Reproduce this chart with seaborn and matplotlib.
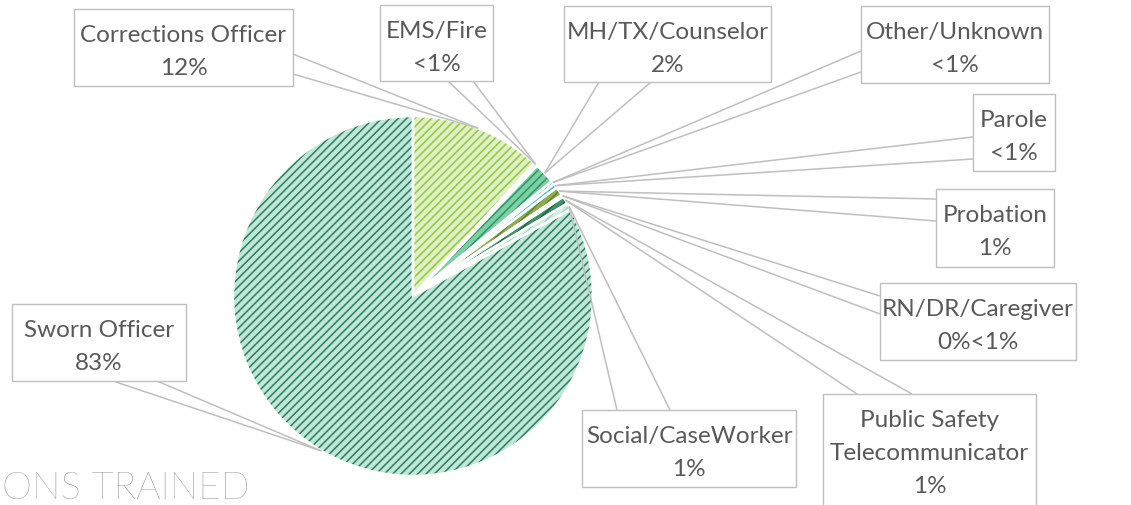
import numpy as np
import matplotlib
matplotlib.use("Agg")
import matplotlib.pyplot as plt
from matplotlib.patches import Wedge, Rectangle
import seaborn as sns

# ---------------- data ----------------
categories = ["Corrections Officer", "EMS/Fire", "MH/TX/Counselor", "Other/Unknown",
              "Parole", "Probation", "RN/DR/Caregiver",
              "Public Safety\nTelecommunicator", "Social/CaseWorker", "Sworn Officer"]
shares = [11.8, 0.3, 1.9, 0.3, 0.4, 0.8, 0.2, 0.7, 0.6, 83.0]
pct_labels = ["12%", "<1%", "2%", "<1%", "<1%", "1%", "0%<1%", "1%", "1%", "83%"]
title_text = "ONS TRAINED"

# ---------------- style ----------------
face_colors = ["#e0f0c2", "#e6f4ec", "#7ecfa6", "#86d8c6", "#62c4ef",
               "#8eae4e", "#eef2ee", "#3f8f68", "#d6eee4", "#bfe6d7"]
hatch_colors = ["#8fc846", "#bfe2cf", "#2c9766", "#3db59b", "#3aa6df",
                "#5f8131", "#cfd8cf", "#1d6846", "#a6d7c3", "#2a7d5e"]

# label box layout in pixel coordinates (x0, y0, x1, y1) measured from top-left
boxes = [(74, 10, 293, 87), (380, 6, 493, 82), (564, 7, 771, 83), (861, 7, 1049, 84),
         (973, 95, 1055, 172), (936, 190, 1054, 268), (880, 284, 1076, 361),
         (823, 395, 1036, 530), (582, 411, 796, 488), (12, 305, 186, 382)]
# two attachment points of each callout leader on its box
anchors = [[(293, 55), (293, 75)], [(448, 82), (473, 82)], [(599, 83), (651, 83)],
           [(861, 52), (861, 73)], [(973, 138), (973, 160)], [(936, 200), (936, 222)],
           [(880, 297), (880, 315)], [(857, 395), (912, 395)], [(617, 411), (670, 411)],
           [(113, 382), (157, 382)]]

sns.set_theme(style="white")
plt.rcParams['font.family'] = ['Lato', 'DejaVu Sans']
plt.rcParams['hatch.linewidth'] = 1.1

W, H = 1131, 506
fig = plt.figure(figsize=(W / 100, H / 100), dpi=100)
ax = fig.add_axes([0, 0, 1, 1])

cx, cy_img, R = 413, 297, 180
cy = H - cy_img

wedges, _ = ax.pie(shares, startangle=90, counterclock=False, center=(cx, cy),
                   radius=R, colors=face_colors, wedgeprops=dict(linewidth=0))
for w, hc in zip(wedges, hatch_colors):
    w.set_hatch('////')
    w.set_edgecolor(hc)
    w.set_linewidth(0)
    w.set_zorder(1)
    sep = Wedge((cx, cy), R, w.theta1, w.theta2, fill=False,
                edgecolor='white', linewidth=1.8, zorder=2)
    ax.add_patch(sep)

line_col = "#bfbfbf"
text_col = "#595959"
for w, cat, pct, box, anc in zip(wedges, categories, pct_labels, boxes, anchors):
    mid = np.deg2rad((w.theta1 + w.theta2) / 2)
    tip = (cx + R * np.cos(mid), cy + R * np.sin(mid))
    for (ax_x, ax_y) in anc:
        ax.plot([ax_x, tip[0]], [H - ax_y, tip[1]], color=line_col, lw=1.1,
                zorder=3, solid_capstyle='butt')
    x0, y0, x1, y1 = box
    ax.add_patch(Rectangle((x0, H - y1), x1 - x0, y1 - y0, facecolor='white',
                           edgecolor=line_col, linewidth=1.0, zorder=4))
    lines = cat.split("\n") + [pct]
    xc = (x0 + x1) / 2
    for i, ln in enumerate(lines):
        ax.text(xc, H - (y0 + 32 + 33 * i), ln, ha='center', va='baseline',
                fontsize=17.5, color=text_col, zorder=5)

ax.text(2, H - 499, title_text, ha='left', va='baseline', fontsize=27.5,
        color="#767676", fontweight='light', zorder=6)

ax.set_xlim(0, W)
ax.set_ylim(0, H)
ax.set_aspect('equal')
ax.axis('off')
fig.savefig("out.png", dpi=100, facecolor='white')
